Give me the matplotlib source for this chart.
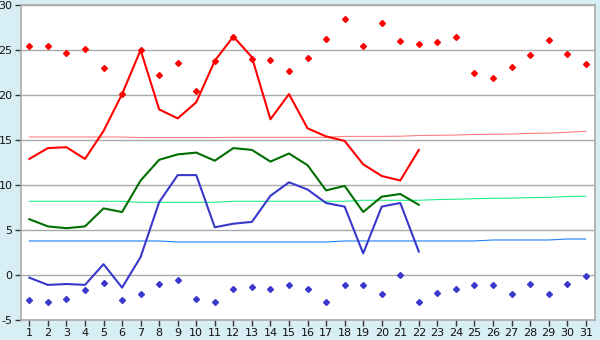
import numpy as np
import matplotlib
matplotlib.use("Agg")
import matplotlib.pyplot as plt

days = np.arange(1, 32)
obs_days = np.arange(1, 23)

# observed daily values (days 1-22)
max_temp = [12.9, 14.1, 14.2, 12.9, 16.0, 20.1, 25.0, 18.4, 17.4, 19.2, 23.8,
            26.5, 24.2, 17.3, 20.1, 16.3, 15.4, 14.9, 12.3, 11.0, 10.5, 13.9]
mean_temp = [6.2, 5.4, 5.2, 5.4, 7.4, 7.0, 10.5, 12.8, 13.4, 13.6, 12.7,
             14.1, 13.9, 12.6, 13.5, 12.2, 9.4, 9.9, 7.0, 8.7, 9.0, 7.8]
min_temp = [-0.3, -1.1, -1.0, -1.1, 1.2, -1.4, 2.0, 8.1, 11.1, 11.1, 5.3,
            5.7, 5.9, 8.8, 10.3, 9.5, 8.0, 7.6, 2.4, 7.6, 8.0, 2.6]

# normals (days 1-31)
normal_max = [15.33, 15.33, 15.33, 15.33, 15.33, 15.33, 15.27, 15.27, 15.27, 15.27,
              15.27, 15.3, 15.3, 15.3, 15.3, 15.3, 15.3, 15.4, 15.4, 15.4,
              15.42, 15.5, 15.52, 15.55, 15.62, 15.63, 15.66, 15.74, 15.76, 15.86, 15.96]
normal_mean = [8.19, 8.19, 8.19, 8.19, 8.19, 8.19, 8.08, 8.08, 8.08, 8.08,
               8.08, 8.19, 8.19, 8.19, 8.19, 8.19, 8.19, 8.19, 8.3, 8.3,
               8.3, 8.3, 8.38, 8.42, 8.48, 8.52, 8.54, 8.6, 8.63, 8.72, 8.75]
normal_min = [3.78, 3.78, 3.78, 3.78, 3.78, 3.78, 3.78, 3.78, 3.67, 3.67,
              3.67, 3.67, 3.67, 3.67, 3.67, 3.67, 3.67, 3.78, 3.78, 3.78,
              3.78, 3.78, 3.78, 3.78, 3.78, 3.89, 3.89, 3.89, 3.89, 4.0, 4.0]

# record values (days 1-31)
record_max = [25.4, 25.5, 24.7, 25.1, 23.0, 20.1, 25.0, 22.2, 23.6, 20.4, 23.8,
              26.5, 24.0, 23.9, 22.7, 24.1, 26.2, 28.4, 25.5, 28.0, 26.0,
              25.7, 25.9, 26.5, 22.4, 21.9, 23.1, 24.4, 26.1, 24.6, 23.5]
record_min = [-2.8, -3.0, -2.7, -1.7, -0.9, -2.8, -2.1, -1.0, -0.5, -2.7, -3.0,
              -1.5, -1.3, -1.6, -1.1, -1.6, -3.0, -1.1, -1.1, -2.1, 0.0,
              -3.0, -2.0, -1.6, -1.1, -1.1, -2.1, -1.0, -2.1, -1.0, -0.1]

plt.rcParams["axes.unicode_minus"] = False

bg = "#d8eef5"
fig = plt.figure(figsize=(6, 3.4), dpi=100, facecolor=bg)
ax = fig.add_axes([21 / 600, 20 / 340, 574 / 600, 315 / 340])
ax.set_facecolor("white")

ax.plot(days, normal_max, color="#ff7f7f", lw=0.8)
ax.plot(days, normal_mean, color="#22ee88", lw=0.8)
ax.plot(days, normal_min, color="#1f7fef", lw=0.8)

ax.plot(obs_days, max_temp, color="#ff0000", lw=1.5)
ax.plot(obs_days, mean_temp, color="#006e00", lw=1.5)
ax.plot(obs_days, min_temp, color="#3838cc", lw=1.5)

ax.plot(days, record_max, "D", color="#ff0000", ms=3, ls="none")
ax.plot(days, record_min, "D", color="#3838cc", ms=3, ls="none")

ax.set_xlim(0.55, 31.5)
ax.set_ylim(-5, 30)
ax.set_xticks(days)
ax.set_yticks(range(-5, 31, 5))
ax.yaxis.grid(True, color="#aaaaaa", lw=1)
ax.set_axisbelow(True)
for s in ax.spines.values():
    s.set_color("#aaaaaa")
    s.set_linewidth(1.2)
ax.tick_params(axis="both", direction="out", length=4, width=1, color="#333333",
               labelsize=8, pad=2, labelcolor="#111111")

fig.savefig("out.png", dpi=100, facecolor=bg)
